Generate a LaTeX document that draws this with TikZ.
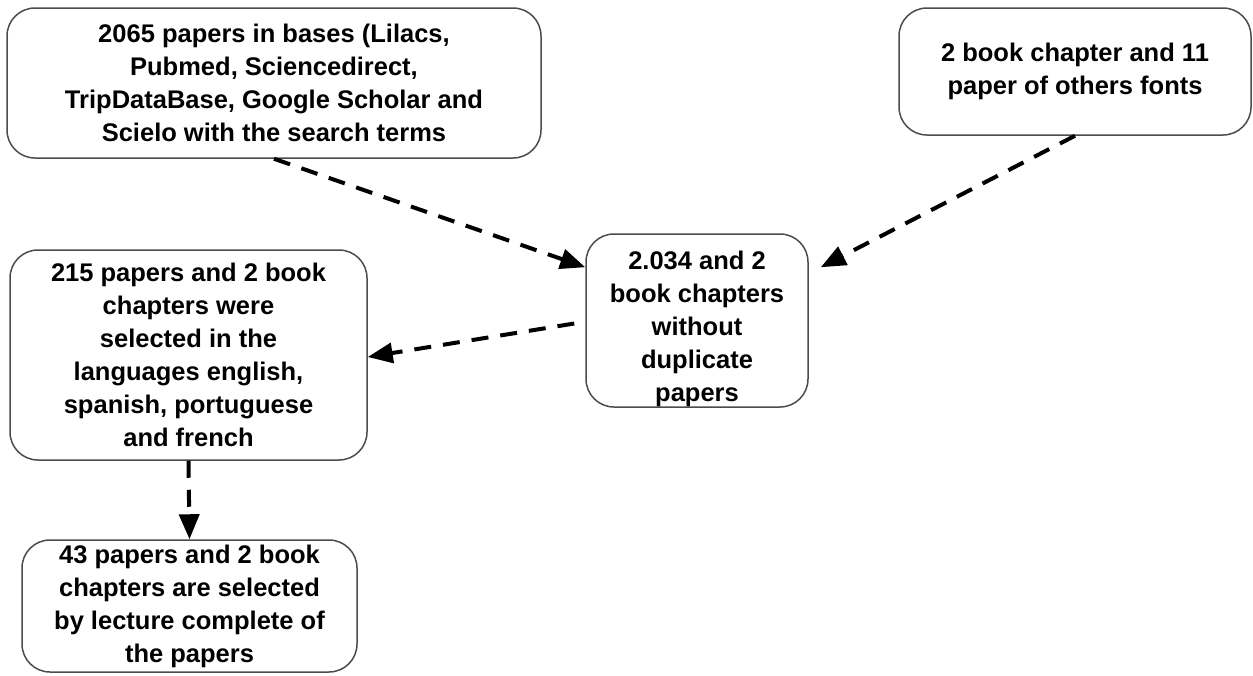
\documentclass[tikz,border=0pt]{standalone}
\usepackage{fontspec}
\setmainfont{Liberation Sans}
\usetikzlibrary{arrows.meta,calc}
\begin{document}
\begin{tikzpicture}[x=1pt,y=-1pt,
  box/.style={draw=black!70, line width=1.5pt, rounded corners=28pt, fill=white,
    align=center, inner sep=0pt, font=\bfseries\fontsize{25.5}{33}\selectfont},
  arr/.style={line width=4pt, dash pattern=on 17pt off 12pt,
    -{Triangle[length=25pt,width=20pt]}}]
\useasboundingbox (0,0) rectangle (1253,675);
\node[box, minimum width=534pt, minimum height=150pt] (A) at (274,83)
  {2065 papers in bases (Lilacs,\\ Pubmed, Sciencedirect,\\ TripDataBase, Google Scholar and\\ Scielo with the search terms};
\node[box, minimum width=352pt, minimum height=127pt] (B) at (1075,71.5)
  {2 book chapter and 11\\ paper of others fonts};
\node[box, minimum width=222pt, minimum height=173pt] (C) at (697,320.5)
  {\rule{0pt}{34.6pt}2.034 and 2\\ book chapters\\ without\\ duplicate\\ papers};
\node[box, minimum width=357pt, minimum height=210pt] (D) at (188.5,355)
  {215 papers and 2 book\\ chapters were\\ selected in the\\ languages english,\\ spanish, portuguese\\ and french};
\node[box, minimum width=335pt, minimum height=132pt] (E) at (189.5,606)
  {43 papers and 2 book\\ chapters are selected\\ by lecture complete of\\ the papers};
\draw[arr] (A.south) -- ([yshift=-34pt]C.north west);
\draw[arr] (B.south) -- ([xshift=12pt,yshift=-34pt]C.north east);
\draw[arr] ([xshift=-11pt,yshift=-3pt]C.west) -- ([yshift=-2pt]D.east);
\draw[arr] (D.south) -- (E.north);
\end{tikzpicture}
\end{document}
